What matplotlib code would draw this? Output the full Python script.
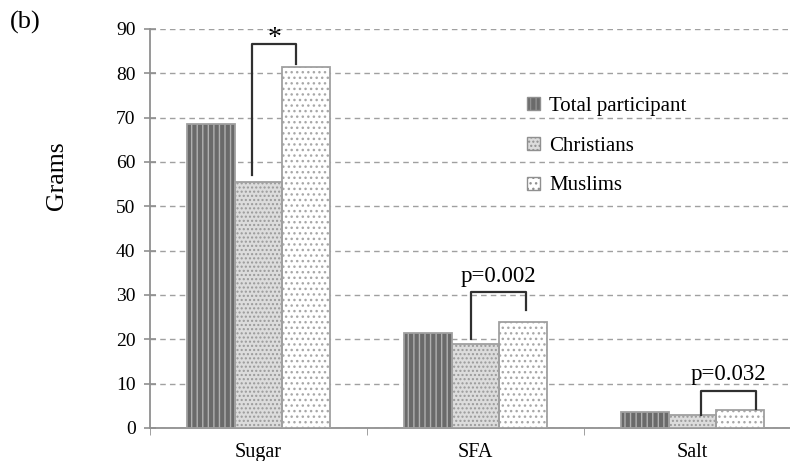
import numpy as np
import matplotlib
matplotlib.use("Agg")
from matplotlib import pyplot as plt
from matplotlib.patches import Patch

plt.rcParams["font.family"] = ["Liberation Serif", "DejaVu Serif"]
plt.rcParams["hatch.linewidth"] = 1.0

categories = ["Sugar", "SFA", "Salt"]
groups = ["Total participant", "Christians", "Muslims"]
total = [68.5, 21.5, 3.5]
christians = [55.5, 19.0, 3.0]
muslims = [81.5, 24.0, 4.0]

# significance brackets: (category, left x off, right x off, left h, right h, top h, label)
brackets = [
    (0, -0.030, 0.173, 57.0, 82.0, 86.7, "*"),
    (1, -0.021, 0.233, 20.0, 26.6, 30.7, "p=0.002"),
    (2, 0.039, 0.293, 3.0, 4.3, 8.4, "p=0.032"),
]

fig = plt.figure(figsize=(7.9, 4.61), dpi=100)
ax = fig.add_axes([0.19, 0.0716, 0.824, 0.8655])

x = np.arange(len(categories))
w = 0.219
styles = [
    ("#6a6a6a", "#b0b0b0", "|||"),
    ("#dcdcdc", "#9a9a9a", "...."),
    ("white", "#a8a8a8", "..."),
]
series = [total, christians, muslims]
offsets = [-w, 0, w]
for vals, off, (fc, hc, h) in zip(series, offsets, styles):
    ax.bar(x + off, vals, w, color=fc, edgecolor=hc, hatch=h, linewidth=0, zorder=3)
    ax.bar(x + off, vals, w, fill=False, edgecolor="#a0a0a0", linewidth=1.3, zorder=4)

for i, lo, ro, lh, rh, top, lab in brackets:
    xl = x[i] + lo
    xr = x[i] + ro
    ax.plot([xl, xl, xr, xr], [lh, top, top, rh], color="#303030", lw=1.6, zorder=5)
    if lab == "*":
        ax.text((xl + xr) / 2, top - 1.6, lab, ha="center", va="bottom", fontsize=20, zorder=6)
    else:
        ax.text((xl + xr) / 2, top + 1.2, lab, ha="center", va="bottom", fontsize=16.5, zorder=6)

ax.set_xlim(-0.5, 2.5)
ax.set_ylim(0, 90)
ax.set_yticks(range(0, 91, 10))
ax.yaxis.grid(True, linestyle=(0, (4, 3)), color="#a0a0a0", lw=1.0, zorder=0)
ax.set_xticks(x)
ax.set_xticklabels(categories, fontsize=14.5)
ax.set_xticks([-0.5, 0.5, 1.5, 2.5], minor=True)
ax.tick_params(axis="x", which="major", length=0, pad=11)
ax.tick_params(axis="x", which="minor", length=5, color="#909090", direction="out")
ax.tick_params(axis="y", labelsize=14, direction="inout", length=9, color="#909090", width=1.2, pad=6)
for s in ["top", "right"]:
    ax.spines[s].set_visible(False)
for s in ["left", "bottom"]:
    ax.spines[s].set_color("#909090")
    ax.spines[s].set_linewidth(1.3)
ax.set_ylabel("Grams", fontsize=18.5)
ax.yaxis.set_label_coords(-0.126, 0.632)

handles = [Patch(facecolor=fc, edgecolor=hc, hatch=h, linewidth=0) for fc, hc, h in styles]
leg = ax.legend(handles, groups, loc="upper left", bbox_to_anchor=(0.579, 0.83), frameon=False,
                fontsize=15, handlelength=0.6, handleheight=0.6, handletextpad=0.45,
                labelspacing=1.0, borderpad=0, borderaxespad=0)
for p in leg.get_patches():
    p.set_edgecolor("#909090")
    p.set_linewidth(1.0)

fig.text(0.012, 0.952, "(b)", fontsize=19, va="center")

fig.savefig("out.png", dpi=100)
